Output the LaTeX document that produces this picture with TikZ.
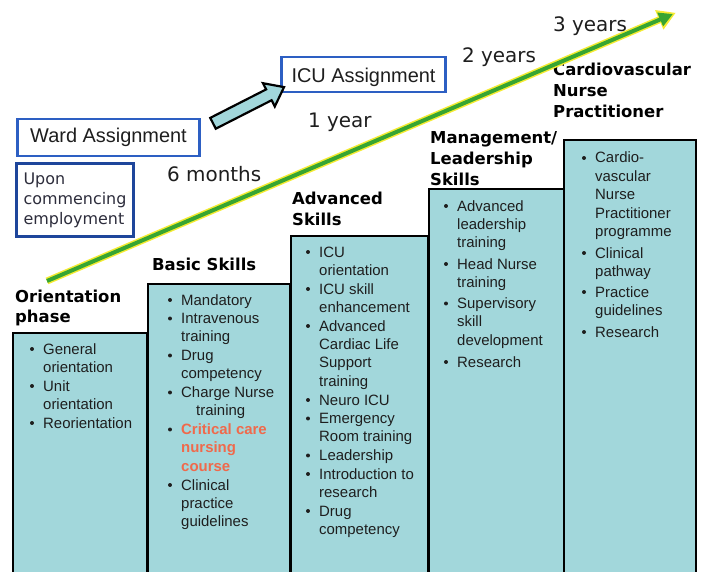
\documentclass[tikz,border=0pt]{standalone}
\usepackage{fontspec}
\setmainfont{Liberation Sans}
\newfontfamily\dejavu{DejaVu Sans}
\usetikzlibrary{arrows.meta,shapes.arrows}

\definecolor{stepfill}{RGB}{162,215,219}
\definecolor{boxblue}{RGB}{45,95,195}
\definecolor{darkblue}{RGB}{30,70,155}
\definecolor{linegreen}{RGB}{55,165,50}
\definecolor{haloyellow}{RGB}{245,235,50}
\definecolor{critc}{RGB}{240,105,75}
\definecolor{inktext}{RGB}{30,30,30}
\definecolor{slatetext}{RGB}{45,45,60}

% left-aligned lines whose baseline is the baseline of the first line
\newcommand\stack[1]{\vtop{\let\\\cr\halign{##\hfil\cr#1\crcr}}}
% highlighted course name
\newcommand\crit[1]{{\color{critc}\bfseries #1}}
% one bulleted entry: name, text x, first baseline, lines
\newcommand\bitem[4]{%
  \node[bulletdot] (#1-dot) at (#2-11,#3-5) {};
  \node[itemtxt] (#1) at (#2,#3) {\stack{#4}};}

\tikzset{
  stepbox/.style={draw=black, line width=2.5pt, fill=stepfill, anchor=north west,
    inner sep=0pt, minimum height=600pt},
  heading/.style={anchor=base west, inner sep=0pt, text=black,
    font=\dejavu\bfseries\fontsize{16.5}{21}\selectfont},
  itemtxt/.style={anchor=base west, inner sep=0pt, text=inktext,
    font=\fontsize{15}{18.5}\selectfont},
  bulletdot/.style={circle, fill=inktext, inner sep=0pt, minimum size=4pt},
  timelabel/.style={anchor=base west, inner sep=0pt, text=inktext,
    font=\dejavu\fontsize{20}{24}\selectfont},
  assignbox/.style={draw=boxblue, line width=2.5pt, fill=white, inner sep=0pt,
    text=inktext, font=\fontsize{20}{24}\selectfont},
  startbox/.style={draw=darkblue, line width=3pt, fill=white, inner sep=0pt,
    text=slatetext, font=\dejavu\fontsize{16}{20}\selectfont},
  blockarrow/.style={single arrow, draw=black, line width=2.2pt, fill=stepfill,
    minimum height=80pt, minimum width=26pt, inner sep=5pt,
    single arrow head extend=7pt, single arrow tip angle=75, rotate=27},
}

\begin{document}
\begin{tikzpicture}[x=1bp, y=-1bp]
\useasboundingbox (0,0) rectangle (702,572);
\fill[white] (0,0) rectangle (702,572);
\clip (0,0) rectangle (702,572);

% staircase of training stages
\node[stepbox, minimum width=135pt] (col1) at (12,332) {};
\node[stepbox, minimum width=143pt] (col2) at (147,283) {};
\node[stepbox, minimum width=138pt] (col3) at (290,235) {};
\node[stepbox, minimum width=135pt] (col4) at (428,188) {};
\node[stepbox, minimum width=132pt] (col5) at (563,139) {};

% stage headings
\node[heading] (h1) at (15,302) {\stack{Orientation\\phase}};
\node[heading] (h2) at (152,270) {Basic Skills};
\node[heading] (h3) at (292,205) {\stack{Advanced\\Skills}};
\node[heading] (h4) at (430,144) {\stack{Management/\\Leadership\\Skills}};
\node[heading] (h5) at (553,76) {\stack{Cardiovascular\\Nurse\\Practitioner}};

% orientation phase
\bitem{o1}{43}{354}{General\\orientation}
\bitem{o2}{43}{391}{Unit\\orientation}
\bitem{o3}{43}{428}{Reorientation}

% basic skills
\bitem{b1}{181}{305}{Mandatory}
\bitem{b2}{181}{323.5}{Intravenous\\training}
\bitem{b3}{181}{360.5}{Drug\\competency}
\bitem{b4}{181}{397.5}{Charge Nurse\\\hskip15bp training}
\bitem{b5}{181}{434.5}{\crit{Critical care}\\\crit{nursing}\\\crit{course}}
\bitem{b6}{181}{490}{Clinical\\practice\\guidelines}

% advanced skills
\bitem{a1}{319}{257}{ICU\\orientation}
\bitem{a2}{319}{294}{ICU skill\\enhancement}
\bitem{a3}{319}{331}{Advanced\\Cardiac Life\\Support\\training}
\bitem{a4}{319}{405}{Neuro ICU}
\bitem{a5}{319}{423.5}{Emergency\\Room training}
\bitem{a6}{319}{460.5}{Leadership}
\bitem{a7}{319}{479}{Introduction to\\research}
\bitem{a8}{319}{516}{Drug\\competency}

% management / leadership skills
\bitem{m1}{457}{211}{Advanced\\leadership\\training}
\bitem{m2}{457}{269}{Head Nurse\\training}
\bitem{m3}{457}{308.5}{Supervisory\\skill\\development}
\bitem{m4}{457}{367}{Research}

% cardiovascular nurse practitioner
\bitem{c1}{595}{163}{Cardio-\\vascular\\Nurse\\Practitioner\\programme}
\bitem{c2}{595}{258}{Clinical\\pathway}
\bitem{c3}{595}{297}{Practice\\guidelines}
\bitem{c4}{595}{337}{Research}

% timeline arrow
\coordinate (tlstart) at (47,281);
\coordinate (tlend) at (673,14);
\draw[line width=7pt, haloyellow, shorten >=-3pt,
  -{Triangle[length=18pt,width=20pt]}] (tlstart) -- (tlend);
\draw[line width=4pt, linegreen,
  -{Triangle[length=14pt,width=14pt]}] (tlstart) -- (tlend);

% time marks
\node[timelabel] (t6m) at (167,182) {6 months};
\node[timelabel] (t1y) at (308,128) {1 year};
\node[timelabel] (t2y) at (462,63) {2 years};
\node[timelabel] (t3y) at (553,32) {3 years};

% assignments
\node[assignbox, minimum width=183pt, minimum height=37pt] (ward) at (108.5,137.5) {Ward Assignment};
\node[assignbox, minimum width=165pt, minimum height=35pt, text height=18pt, text depth=2pt]
  (icu) at (363.5,74.5) {ICU Assignment};
\node[startbox, minimum width=118pt, minimum height=74pt] (start) at (75,200)
  {\stack{Upon\\commencing\\employment}};
\node[blockarrow] (promote) at (245,107) {};
\end{tikzpicture}
\end{document}
